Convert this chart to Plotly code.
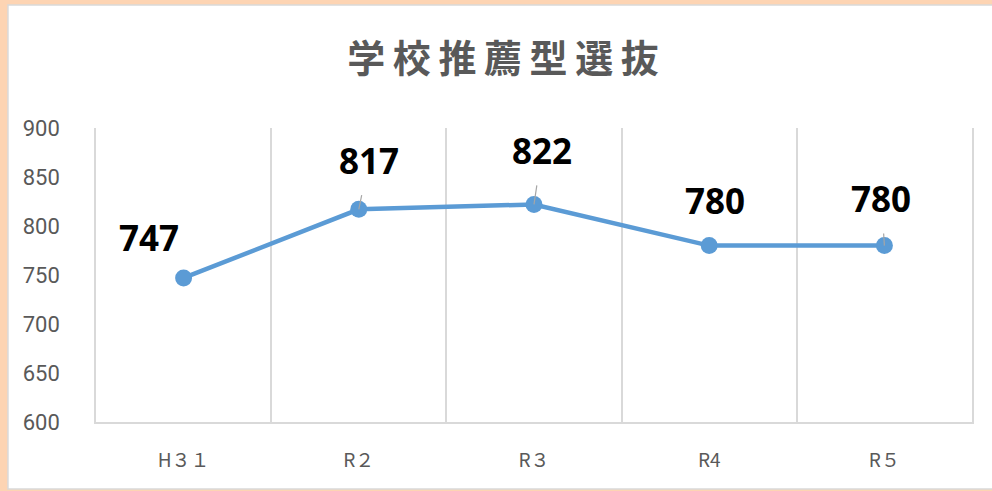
import plotly.graph_objects as go

# ---- data ----
categories = ["H３１", "R２", "R３", "R4", "R５"]
values = [747, 817, 822, 780, 780]
y_ticks = [600, 650, 700, 750, 800, 850, 900]
title_text = "学校推薦型選抜"

# ---- label placement style (pixel offsets from point) ----
label_dx = [-35, 10, 8, 6, -3]
label_dy = [-40, -49, -54, -45, -47]
show_leader = [False, True, True, False, True]

LINE_COLOR = "#5B9BD5"
GRID = "#D9D9D9"
TXT = "#595959"

fig = go.Figure()
fig.add_trace(go.Scatter(
    x=categories, y=values, mode="lines+markers",
    line=dict(color=LINE_COLOR, width=4.5),
    marker=dict(color=LINE_COLOR, size=17),
    hoverinfo="skip", showlegend=False,
))

for i, v in enumerate(values):
    fig.add_annotation(
        x=categories[i], y=v, xref="x", yref="y",
        text=str(v), showarrow=True,
        ax=label_dx[i], ay=label_dy[i],
        arrowhead=0, arrowwidth=1.2,
        arrowcolor="#A6A6A6" if show_leader[i] else "rgba(0,0,0,0)",
        standoff=0, startstandoff=10,
        font=dict(family="Noto Sans, Liberation Sans, sans-serif", size=35, color="#000000", weight="bold"),
    )

# background: peach frame with white chart area
fig.add_shape(type="rect", xref="paper", yref="paper",
              x0=-0.1005, x1=1.1, y0=-0.228, y1=1.418,
              fillcolor="white", line=dict(color=GRID, width=1.5), layer="below")

spaced_title = "\u2009".join(title_text)
fig.update_layout(
    width=992, height=491,
    margin=dict(l=96, r=20, t=128, b=69),
    paper_bgcolor="#FDD4B3",
    plot_bgcolor="rgba(0,0,0,0)",
    title=dict(text=spaced_title, x=503/992, xref="container", xanchor="center",
               y=1 - 59/491, yref="container", yanchor="middle",
               font=dict(family="Noto Sans CJK JP", size=38, color=TXT, weight="bold")),
    xaxis=dict(
        type="category",
        categoryorder="array", categoryarray=categories,
        range=[-0.5, len(categories) - 0.5], autorange=False,
        tickson="boundaries", ticks="", showgrid=True, gridcolor=GRID, gridwidth=1.5,
        showline=True, linecolor=GRID, linewidth=1.5, mirror=False,
        tickfont=dict(family="Noto Sans CJK JP", size=19, color=TXT),
        ticklabelstandoff=20, zeroline=False, fixedrange=True,
    ),
    yaxis=dict(
        range=[600, 900], tickvals=y_ticks, showgrid=False, zeroline=False,
        showline=True, mirror=True, linecolor=GRID, linewidth=1.5, ticks="",
        tickfont=dict(family="Roboto", size=22, color=TXT),
        ticklabelstandoff=30, fixedrange=True,
    ),
)

fig.write_html("out.html", config={"displayModeBar": False},
               post_script="document.body.style.margin='0';")
